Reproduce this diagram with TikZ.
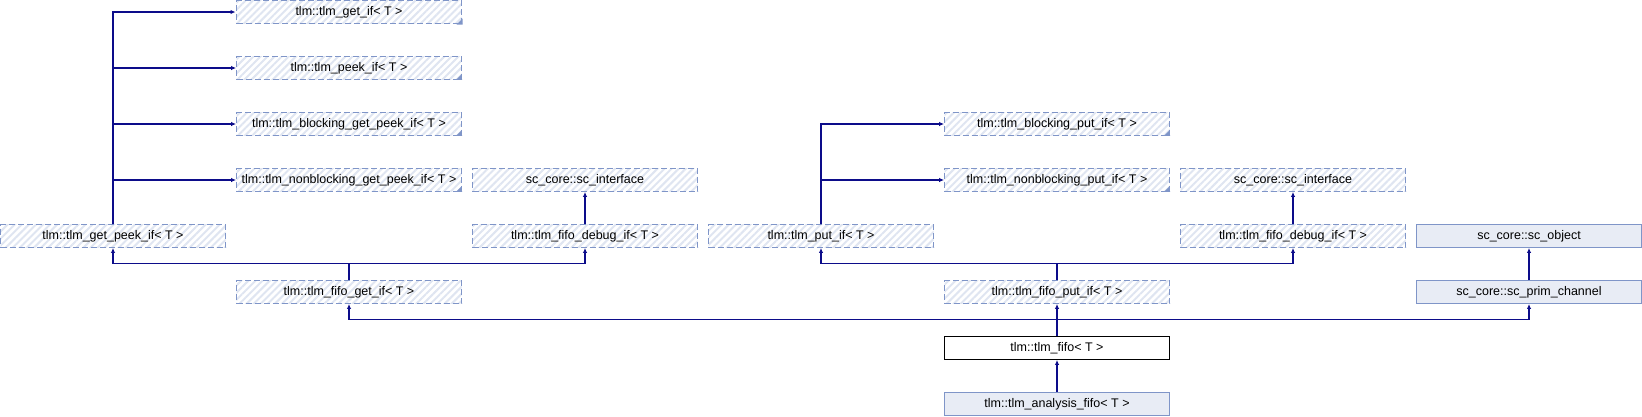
\documentclass[tikz,border=0pt]{standalone}
\usepackage{fontspec}
\setmainfont{Liberation Sans}
\usetikzlibrary{patterns.meta,arrows.meta}
\definecolor{edgec}{HTML}{0C0C8A}
\definecolor{bordc}{HTML}{7F95C8}
\definecolor{hatchc}{HTML}{DFE5F1}
\definecolor{solidc}{HTML}{E8ECF5}
\begin{document}
\begin{tikzpicture}[x=1pt,y=-1pt,
 box/.style={minimum width=225pt,minimum height=23pt,inner sep=0pt,font=\fontsize{12.5}{14}\selectfont,text=black},
 undoc/.style={box,draw=bordc,dash pattern=on 6pt off 3pt,line width=0.9pt,
   pattern={Lines[angle=45,distance=5pt,line width=2pt]},pattern color=hatchc},
 docbox/.style={box,draw=bordc,line width=0.9pt,fill=solidc},
 curbox/.style={box,draw=black,line width=0.9pt,fill=white},
 inh/.style={draw=edgec,line width=1.2pt,-{Latex[length=5pt,width=4.5pt]}},
 trunc/.style={fill=bordc}
]
\useasboundingbox (0,0) rectangle (1642,416);
% row 0-3
\node[undoc] (getif)   at (349,12)  {tlm::tlm\_get\_if< T >};
\node[undoc] (peekif)  at (349,68)  {tlm::tlm\_peek\_if< T >};
\node[undoc] (bgpeek)  at (349,124) {tlm::tlm\_blocking\_get\_peek\_if< T >};
\node[undoc] (nbgpeek) at (349,180) {tlm::tlm\_nonblocking\_get\_peek\_if< T >};
\node[undoc] (scifL)   at (585,180) {sc\_core::sc\_interface};
\node[undoc] (bput)    at (1057,124) {tlm::tlm\_blocking\_put\_if< T >};
\node[undoc] (nbput)   at (1057,180) {tlm::tlm\_nonblocking\_put\_if< T >};
\node[undoc] (scifR)   at (1293,180) {sc\_core::sc\_interface};
% row 4
\node[undoc] (getpeek) at (113,236)  {tlm::tlm\_get\_peek\_if< T >};
\node[undoc] (dbgL)    at (585,236)  {tlm::tlm\_fifo\_debug\_if< T >};
\node[undoc] (putif)   at (821,236)  {tlm::tlm\_put\_if< T >};
\node[undoc] (dbgR)    at (1293,236) {tlm::tlm\_fifo\_debug\_if< T >};
\node[docbox] (scobj)  at (1529,236) {sc\_core::sc\_object};
% row 5
\node[undoc] (fgetif)  at (349,292)  {tlm::tlm\_fifo\_get\_if< T >};
\node[undoc] (fputif)  at (1057,292) {tlm::tlm\_fifo\_put\_if< T >};
\node[docbox] (prim)   at (1529,292) {sc\_core::sc\_prim\_channel};
% row 6-7
\node[curbox] (fifo)   at (1057,348) {tlm::tlm\_fifo< T >};
\node[docbox] (afifo)  at (1057,404) {tlm::tlm\_analysis\_fifo< T >};
% truncation marks
\foreach \n in {getif,peekif,bgpeek,nbgpeek,bput,nbput}
  \fill[trunc] (\n.south east) -- ++(-6pt,0pt) -- ++(6pt,6pt) -- cycle;
% edges
\foreach \t in {getif,peekif,bgpeek,nbgpeek}
  \draw[inh] (getpeek.north) |- (\t.west);
\foreach \t in {bput,nbput}
  \draw[inh] (putif.north) |- (\t.west);
\draw[inh] (dbgL.north) -- (scifL.south);
\draw[inh] (dbgR.north) -- (scifR.south);
\draw[inh] (prim.north) -- (scobj.south);
\draw[inh] (fgetif.north) -- +(0,-16.5) -| (getpeek.south);
\draw[inh] (fgetif.north) -- +(0,-16.5) -| (dbgL.south);
\draw[inh] (fputif.north) -- +(0,-16.5) -| (putif.south);
\draw[inh] (fputif.north) -- +(0,-16.5) -| (dbgR.south);
\draw[inh] (fifo.north) -- +(0,-16.5) -| (fgetif.south);
\draw[inh] (fifo.north) -- (fputif.south);
\draw[inh] (fifo.north) -- +(0,-16.5) -| (prim.south);
\draw[inh] (afifo.north) -- (fifo.south);
\end{tikzpicture}
\end{document}
